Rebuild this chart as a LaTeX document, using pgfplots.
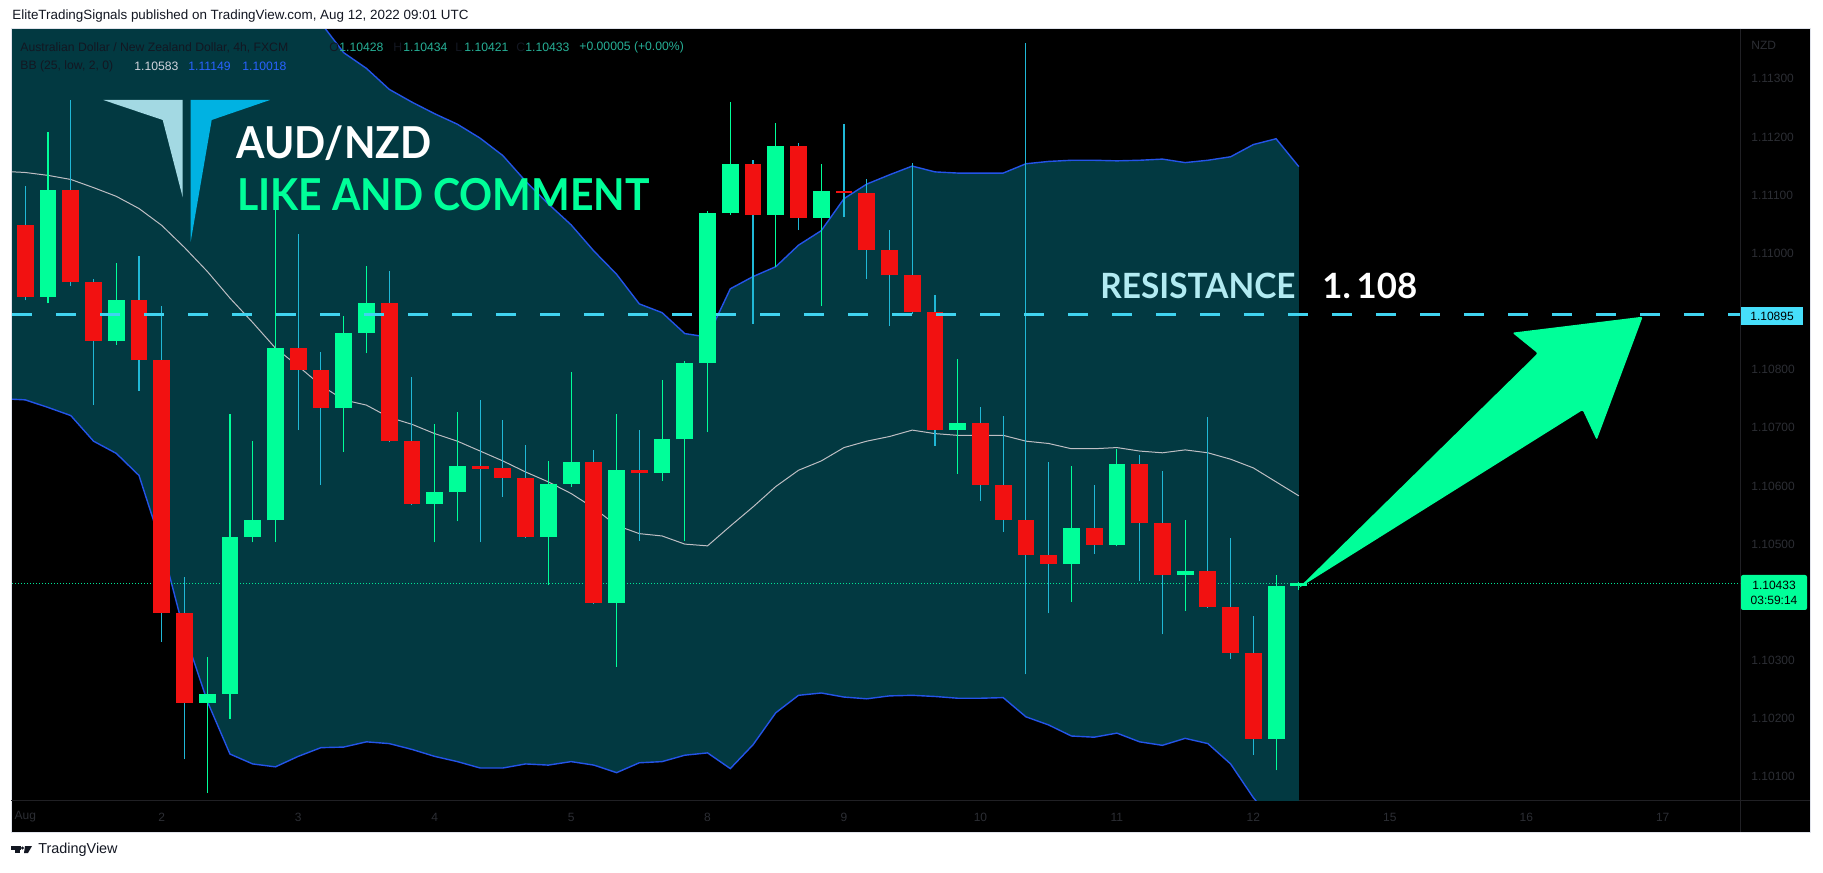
\documentclass[border=0pt]{standalone}
\usepackage{fontspec}
\setmainfont{Liberation Sans}
\newfontfamily\latofont{Lato}
\usepackage{pgfplots}
\pgfplotsset{compat=1.18}
\usepackage{pgfplotstable}

\definecolor{bandfill}{RGB}{2,57,65}
\definecolor{cgreen}{RGB}{0,255,153}
\definecolor{cred}{RGB}{242,17,17}
\definecolor{wickcyan}{RGB}{32,184,214}
\definecolor{bandblue}{RGB}{36,84,232}
\definecolor{midgray}{RGB}{190,190,195}
\definecolor{resist}{RGB}{64,212,240}
\definecolor{dotgreen}{RGB}{0,230,150}
\definecolor{axgray}{RGB}{44,46,52}
\definecolor{lblcyan}{RGB}{70,222,250}
\definecolor{restext}{RGB}{178,235,242}
\definecolor{logoL}{RGB}{163,217,227}
\definecolor{logoR}{RGB}{0,178,226}
\definecolor{tvdark}{RGB}{19,23,34}
\definecolor{valteal}{RGB}{38,175,150}
\definecolor{bbwhite}{RGB}{209,212,220}
\definecolor{bbblue}{RGB}{41,98,255}
\definecolor{sepgray}{RGB}{32,32,36}
\definecolor{framegray}{RGB}{224,227,235}

\newcommand\fs[1]{\fontsize{#1}{#1}\selectfont}

% AUD/NZD 4h candles: index, open, high, low, close
\pgfplotstableread{
i o h l c
0 1.11048 1.11115 1.10919 1.10925
2 1.11109 1.11263 1.10944 1.10950
3 1.10950 1.10956 1.10739 1.10850
5 1.10919 1.10995 1.10764 1.10816
6 1.10816 1.10909 1.10332 1.10382
7 1.10382 1.10443 1.10130 1.10227
12 1.10837 1.11033 1.10696 1.10799
13 1.10799 1.10831 1.10602 1.10734
16 1.10914 1.10969 1.10675 1.10677
17 1.10677 1.10788 1.10567 1.10569
20 1.10634 1.10748 1.10503 1.10629
21 1.10631 1.10714 1.10581 1.10614
22 1.10614 1.10671 1.10510 1.10512
25 1.10642 1.10662 1.10397 1.10399
27 1.10628 1.10696 1.10506 1.10622
32 1.11154 1.11160 1.10879 1.11066
34 1.11185 1.11189 1.11040 1.11061
36 1.11108 1.11222 1.11062 1.11104
37 1.11104 1.11127 1.10956 1.11006
38 1.11006 1.11040 1.10875 1.10962
39 1.10962 1.11155 1.10895 1.10899
40 1.10899 1.10929 1.10669 1.10696
42 1.10708 1.10736 1.10574 1.10602
43 1.10602 1.10720 1.10521 1.10542
44 1.10542 1.11362 1.10276 1.10481
45 1.10481 1.10642 1.10381 1.10466
47 1.10527 1.10601 1.10483 1.10499
49 1.10638 1.10654 1.10436 1.10537
50 1.10537 1.10626 1.10345 1.10447
52 1.10454 1.10718 1.10390 1.10392
53 1.10392 1.10510 1.10303 1.10313
54 1.10313 1.10376 1.10138 1.10165
}\redc

\pgfplotstableread{
i o h l c
1 1.10925 1.11208 1.10914 1.11109
4 1.10850 1.10983 1.10843 1.10919
8 1.10227 1.10306 1.10072 1.10243
9 1.10243 1.10724 1.10200 1.10513
10 1.10513 1.10677 1.10503 1.10541
11 1.10541 1.11077 1.10504 1.10837
14 1.10734 1.10892 1.10659 1.10863
15 1.10863 1.10978 1.10828 1.10914
18 1.10569 1.10706 1.10503 1.10589
19 1.10589 1.10727 1.10539 1.10634
23 1.10512 1.10643 1.10429 1.10604
24 1.10604 1.10796 1.10599 1.10642
26 1.10399 1.10724 1.10289 1.10628
28 1.10622 1.10783 1.10609 1.10680
29 1.10680 1.10815 1.10506 1.10811
30 1.10811 1.11072 1.10692 1.11069
31 1.11069 1.11260 1.11066 1.11154
33 1.11066 1.11224 1.10977 1.11185
35 1.11061 1.11154 1.10909 1.11108
41 1.10696 1.10818 1.10621 1.10708
46 1.10466 1.10635 1.10401 1.10527
48 1.10499 1.10663 1.10496 1.10638
51 1.10447 1.10542 1.10385 1.10454
55 1.10165 1.10447 1.10111 1.10428
56 1.10428 1.10434 1.10421 1.10433
}\greenc

% Bollinger bands (25, 2): upper, basis, lower
\pgfplotstableread{
i up mid lo
-1 1.11532 1.11141 1.10750
0 1.11530 1.11139 1.10748
1 1.11533 1.11134 1.10735
2 1.11533 1.11127 1.10721
3 1.11549 1.11113 1.10677
4 1.11540 1.11098 1.10656
5 1.11536 1.11077 1.10618
6 1.11599 1.11048 1.10497
7 1.11673 1.11010 1.10347
8 1.11708 1.10969 1.10230
9 1.11707 1.10923 1.10139
10 1.11640 1.10881 1.10122
11 1.11557 1.10837 1.10117
12 1.11477 1.10806 1.10135
13 1.11396 1.10773 1.10150
14 1.11345 1.10748 1.10151
15 1.11318 1.10739 1.10160
16 1.11282 1.10718 1.10157
17 1.11260 1.10706 1.10147
18 1.11240 1.10690 1.10135
19 1.11222 1.10677 1.10126
20 1.11198 1.10660 1.10115
21 1.11168 1.10643 1.10115
22 1.11124 1.10624 1.10122
23 1.11085 1.10607 1.10120
24 1.11049 1.10587 1.10126
25 1.11004 1.10562 1.10120
26 1.10964 1.10532 1.10107
27 1.10913 1.10518 1.10124
28 1.10898 1.10514 1.10126
29 1.10862 1.10500 1.10137
30 1.10856 1.10497 1.10141
31 1.10939 1.10531 1.10114
32 1.10960 1.10564 1.10155
33 1.10977 1.10599 1.10210
34 1.11014 1.10627 1.10240
35 1.11039 1.10643 1.10244
36 1.11094 1.10666 1.10237
37 1.11119 1.10677 1.10234
38 1.11135 1.10685 1.10239
39 1.11150 1.10696 1.10240
40 1.11140 1.10690 1.10238
41 1.11138 1.10687 1.10235
42 1.11138 1.10687 1.10235
43 1.11138 1.10687 1.10236
44 1.11154 1.10677 1.10203
45 1.11158 1.10673 1.10189
46 1.11160 1.10664 1.10170
47 1.11160 1.10664 1.10168
48 1.11159 1.10666 1.10175
49 1.11160 1.10660 1.10160
50 1.11162 1.10657 1.10154
51 1.11156 1.10662 1.10166
52 1.11160 1.10657 1.10157
53 1.11166 1.10646 1.10122
54 1.11187 1.10631 1.10064
55 1.11197 1.10607 1.10017
56 1.11149 1.10583 1.10018
}\bands

% outline of the band area: upper band forward, lower band back
\pgfplotstableread{
i v
-1 1.11532
0 1.11530
1 1.11533
2 1.11533
3 1.11549
4 1.11540
5 1.11536
6 1.11599
7 1.11673
8 1.11708
9 1.11707
10 1.11640
11 1.11557
12 1.11477
13 1.11396
14 1.11345
15 1.11318
16 1.11282
17 1.11260
18 1.11240
19 1.11222
20 1.11198
21 1.11168
22 1.11124
23 1.11085
24 1.11049
25 1.11004
26 1.10964
27 1.10913
28 1.10898
29 1.10862
30 1.10856
31 1.10939
32 1.10960
33 1.10977
34 1.11014
35 1.11039
36 1.11094
37 1.11119
38 1.11135
39 1.11150
40 1.11140
41 1.11138
42 1.11138
43 1.11138
44 1.11154
45 1.11158
46 1.11160
47 1.11160
48 1.11159
49 1.11160
50 1.11162
51 1.11156
52 1.11160
53 1.11166
54 1.11187
55 1.11197
56 1.11149
56 1.10018
55 1.10017
54 1.10064
53 1.10122
52 1.10157
51 1.10166
50 1.10154
49 1.10160
48 1.10175
47 1.10168
46 1.10170
45 1.10189
44 1.10203
43 1.10236
42 1.10235
41 1.10235
40 1.10238
39 1.10240
38 1.10239
37 1.10234
36 1.10237
35 1.10244
34 1.10240
33 1.10210
32 1.10155
31 1.10114
30 1.10141
29 1.10137
28 1.10126
27 1.10124
26 1.10107
25 1.10120
24 1.10126
23 1.10120
22 1.10122
21 1.10115
20 1.10115
19 1.10126
18 1.10135
17 1.10147
16 1.10157
15 1.10160
14 1.10151
13 1.10150
12 1.10135
11 1.10117
10 1.10122
9 1.10139
8 1.10230
7 1.10347
6 1.10497
5 1.10618
4 1.10656
3 1.10677
2 1.10721
1 1.10735
0 1.10748
-1 1.10750
}\bandarea

\begin{document}
\begin{tikzpicture}
\fill[white] (0pt,0pt) rectangle (911.5pt,436pt);
% chart frame, pixel coordinates from the top left
\begin{scope}[shift={(0pt,436pt)}, x=0.5pt, y=-0.5pt]
  \fill[black] (11,29) rectangle (1810,832);
  \draw[framegray, line width=0.5pt] (11,29) rectangle (1810,832);
  \draw[sepgray, line width=0.5pt] (1740,29) -- (1740,832);
  \draw[sepgray, line width=0.5pt] (11,800) -- (1810,800);
\end{scope}

\begin{axis}[
  at={(6pt,36pt)}, anchor=south west,
  width=864pt, height=385pt, scale only axis,
  xmin=-0.585, xmax=75.4, ymin=1.10060, ymax=1.11384,
  axis line style={draw=none}, tick style={draw=none}, major tick length=0pt,
  xtick={0,6,...,72},
  xticklabels={Aug,2,3,4,5,8,9,10,11,12,15,16,17},
  xticklabel style={anchor=center, yshift=-8.5pt, inner sep=0pt, font=\fs{6pt}, text=axgray},
  ytick={1.101,1.102,1.103,1.105,1.106,1.107,1.108,1.110,1.111,1.112,1.113},
  yticklabels={1.10100,1.10200,1.10300,1.10500,1.10600,1.10700,1.10800,1.11000,1.11100,1.11200,1.11300},
  yticklabel pos=right,
  yticklabel style={anchor=west, xshift=5.5pt, inner sep=0pt, font=\fs{6pt}, text=axgray},
]
  % band area
  \addplot[fill=bandfill, draw=none] table[x=i, y=v]{\bandarea};
  \addplot[bandblue, line width=0.7pt] table[x=i, y=up]{\bands};
  \addplot[bandblue, line width=0.7pt] table[x=i, y=lo]{\bands};
  \addplot[midgray, line width=0.5pt] table[x=i, y=mid]{\bands};
  % last price line
  \addplot[dotgreen, line width=0.5pt, dash pattern=on 0.6pt off 0.9pt]
    coordinates {(-0.585,1.10433) (75.4,1.10433)};
  % wicks
  \addplot[draw=none, mark=none, error bars/.cd, y dir=plus, y explicit, error mark=none,
    error bar style={draw=wickcyan, line width=0.55pt}]
    table[x=i, y=l, y error plus expr=\thisrow{h}-\thisrow{l}]{\redc};
  \addplot[draw=none, mark=none, error bars/.cd, y dir=plus, y explicit, error mark=none,
    error bar style={draw=cgreen, line width=0.55pt}]
    table[x=i, y=l, y error plus expr=\thisrow{h}-\thisrow{l}]{\greenc};
  % bodies
  \addplot[draw=none, mark=none, error bars/.cd, y dir=plus, y explicit, error mark=none,
    error bar style={draw=cred, line width=8.4pt}]
    table[x=i, y=c, y error plus expr=\thisrow{o}-\thisrow{c}]{\redc};
  \addplot[draw=none, mark=none, error bars/.cd, y dir=plus, y explicit, error mark=none,
    error bar style={draw=cgreen, line width=8.4pt}]
    table[x=i, y=o, y error plus expr=\thisrow{c}-\thisrow{o}]{\greenc};
  % resistance
  \addplot[resist, line width=1.6pt, dash pattern=on 10pt off 12pt]
    coordinates {(-0.585,1.10895) (75.4,1.10895)};
\end{axis}

\begin{scope}[shift={(0pt,436pt)}, x=0.5pt, y=-0.5pt]
  % page header and footer
  \node[anchor=west, inner sep=0pt, text=tvdark, font=\fs{6.7pt}] at (12,16.5)
    {EliteTradingSignals published on TradingView.com, Aug 12, 2022 09:01 UTC};
  \fill[tvdark] (11,846) rectangle (21,849.5);
  \fill[tvdark] (15,846) rectangle (19.5,853);
  \fill[tvdark] (22.5,848) circle (1.6);
  \fill[tvdark] (25,846) -- (32,846) -- (28,853) -- (24,853) -- cycle;
  \node[anchor=west, inner sep=0pt, text=tvdark, font=\fs{7.2pt}] at (38,850) {TradingView};

  % legend lines
  \begin{scope}[every node/.style={anchor=west, inner sep=0pt, font=\fs{6.1pt}}]
    \node[text=tvdark] at (20,47.7) {Australian Dollar / New Zealand Dollar, 4h, FXCM};
    \node[text=tvdark] at (329,47.7) {O};
    \node[text=valteal] at (339,47.7) {1.10428};
    \node[text=tvdark] at (393,47.7) {H};
    \node[text=valteal] at (403,47.7) {1.10434};
    \node[text=tvdark] at (455,47.7) {L};
    \node[text=valteal] at (464,47.7) {1.10421};
    \node[text=tvdark] at (516,47.7) {C};
    \node[text=valteal] at (525,47.7) {1.10433};
    \node[text=valteal] at (579,47.7) {+0.00005 (+0.00\%)};
    \node[text=tvdark] at (20,66.7) {BB (25, low, 2, 0)};
    \node[text=bbwhite] at (134,66.7) {1.10583};
    \node[text=bbblue] at (188,66.7) {1.11149};
    \node[text=bbblue] at (242,66.7) {1.10018};
  \end{scope}

  % logo and titles
  \fill[logoL] (103.3,100) -- (182.7,100) -- (182.7,197.3) -- (162.7,120) -- cycle;
  \fill[logoR] (190.7,100) -- (270,100) -- (211.7,120) -- (190.7,241.7) -- cycle;
  \node[anchor=base west, inner sep=0pt, xscale=0.93, text=white, font=\latofont\bfseries\fs{22pt}] at (236,158.3) {AUD/NZD};
  \node[anchor=base west, inner sep=0pt, xscale=0.93, text=cgreen, font=\latofont\bfseries\fs{22pt}] at (237,210.7) {LIKE AND COMMENT};
  \node[anchor=base west, inner sep=0pt, xscale=0.96, text=restext, font=\latofont\bfseries\fs{17.4pt}] at (1100,298.3) {RESISTANCE};
  \node[anchor=base west, inner sep=0pt, text=white, font=\latofont\bfseries\fs{17.4pt}] at (1322,298.3) {1.\,108};

  % arrow
  \fill[cgreen, rounded corners=1pt] (1298.3,588.3) -- (1537.7,353.3) -- (1512.3,332.7)
    -- (1642.7,316.7) -- (1596.7,440) -- (1582.7,410) -- cycle;

  % price scale labels
  \node[anchor=west, inner sep=0pt, text=axgray, font=\fs{6pt}] at (1751,45) {NZD};
  \fill[lblcyan] (1741,307) rectangle (1803,325);
  \node[inner sep=0pt, text=black, font=\fs{6pt}] at (1772,316) {1.10895};
  \fill[cgreen, rounded corners=1pt] (1741,575) rectangle (1807,610);
  \node[inner sep=0pt, text=black, font=\fs{6pt}] at (1774,585.5) {1.10433};
  \node[inner sep=0pt, text=black, font=\fs{6pt}] at (1774,600) {03:59:14};
\end{scope}
\end{tikzpicture}
\end{document}
